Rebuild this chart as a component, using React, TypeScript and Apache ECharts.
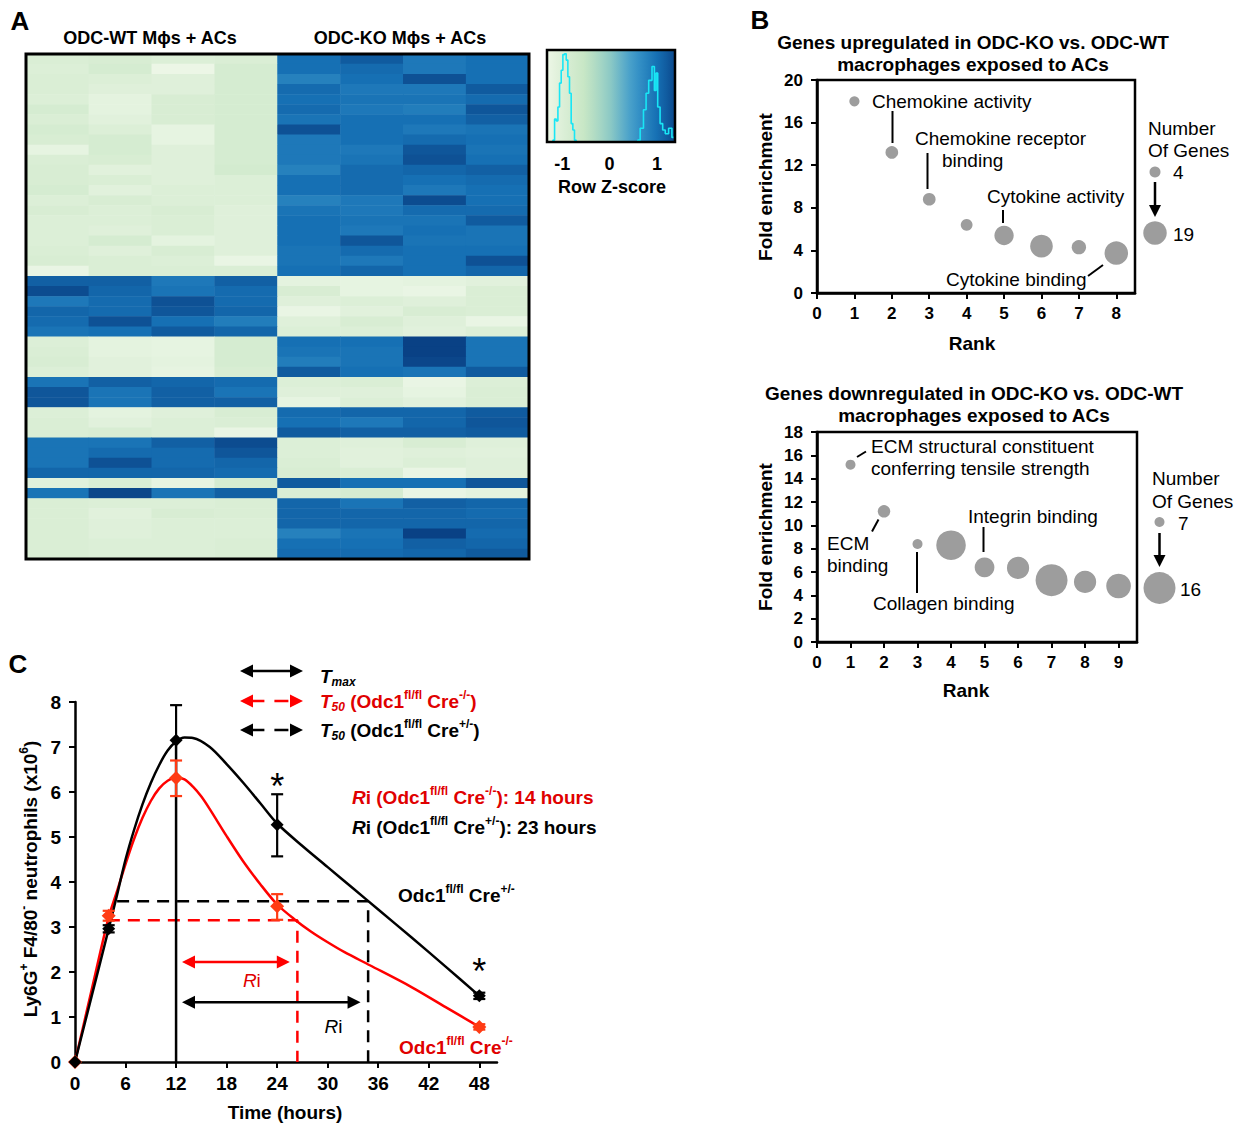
import React, { useEffect, useRef } from 'react';
import * as echarts from 'echarts';

const FONT = '"Liberation Sans", Arial, Helvetica, sans-serif';
const GRAY = '#9d9d9d';
const RED = '#ff0000';
const RED_MARK = '#ff3b14';

// ---------------- Panel A : heatmap ----------------
const heatColumns = ['WT-1', 'WT-2', 'WT-3', 'WT-4', 'KO-1', 'KO-2', 'KO-3', 'KO-4'];
const heatRows: number[][] = [
  [-0.95, -0.9, -1.0, -0.95, 1.0, 1.2, 0.9, 1.0],
  [-1.0, -0.85, -1.3, -0.85, 1.0, 1.05, 0.9, 1.0],
  [-0.95, -1.0, -1.05, -0.85, 0.8, 1.0, 1.3, 1.0],
  [-0.95, -1.05, -1.05, -0.85, 1.05, 0.9, 0.9, 1.2],
  [-1.0, -1.15, -0.9, -0.85, 1.0, 0.95, 0.95, 1.05],
  [-0.85, -1.15, -0.9, -0.85, 1.05, 0.9, 0.85, 1.25],
  [-0.95, -1.1, -0.9, -0.85, 0.95, 1.0, 1.0, 1.15],
  [-0.85, -1.0, -1.2, -0.85, 1.3, 1.0, 0.9, 0.95],
  [-0.9, -0.85, -1.2, -0.85, 0.9, 1.0, 1.05, 1.0],
  [-1.2, -0.85, -1.05, -0.85, 0.9, 0.9, 1.25, 0.95],
  [-0.95, -0.9, -1.05, -0.85, 0.9, 0.95, 1.3, 1.0],
  [-0.9, -1.1, -1.05, -0.8, 0.8, 1.05, 1.1, 1.15],
  [-0.9, -0.95, -1.05, -1.0, 1.0, 1.05, 1.0, 1.05],
  [-0.85, -1.1, -1.0, -1.0, 1.0, 1.05, 0.9, 1.0],
  [-1.0, -0.9, -1.0, -1.0, 0.8, 0.9, 1.35, 1.0],
  [-0.9, -1.0, -0.9, -1.05, 0.95, 0.9, 1.05, 1.05],
  [-1.0, -1.0, -0.95, -1.05, 1.0, 0.95, 0.95, 1.2],
  [-1.0, -1.05, -0.95, -1.05, 1.0, 0.9, 1.0, 0.95],
  [-1.0, -0.85, -1.15, -1.05, 1.0, 1.25, 0.95, 0.95],
  [-0.95, -1.05, -0.9, -1.05, 0.95, 1.05, 1.0, 1.0],
  [-0.9, -0.95, -1.0, -1.25, 0.95, 0.9, 1.0, 1.3],
  [-1.25, -0.95, -0.95, -0.95, 1.0, 1.1, 1.0, 1.1],
  [1.15, 1.15, 0.9, 1.15, -1.15, -1.2, -1.15, -1.1],
  [1.35, 1.1, 0.95, 1.05, -0.9, -1.2, -1.25, -0.95],
  [0.9, 1.05, 1.3, 1.05, -1.05, -1.0, -1.05, -0.95],
  [1.1, 1.05, 1.25, 1.1, -1.25, -1.1, -0.9, -0.95],
  [1.05, 1.3, 1.0, 0.85, -1.05, -0.9, -1.05, -1.25],
  [0.95, 1.0, 1.2, 1.1, -1.0, -1.0, -1.1, -1.0],
  [-1.0, -1.15, -1.2, -0.85, 1.0, 1.0, 1.45, 0.95],
  [-0.95, -1.15, -1.2, -0.85, 0.95, 0.95, 1.45, 0.95],
  [-0.9, -1.1, -1.15, -0.85, 0.85, 0.95, 1.4, 0.95],
  [-1.0, -1.1, -1.2, -0.9, 1.2, 1.0, 0.95, 1.2],
  [0.95, 1.15, 1.1, 1.05, -1.0, -0.95, -1.25, -1.0],
  [1.25, 0.95, 1.15, 0.95, -1.05, -1.05, -1.2, -0.95],
  [1.25, 0.95, 1.15, 1.15, -1.2, -1.0, -1.1, -0.95],
  [-1.0, -1.15, -1.05, -0.9, 1.05, 1.1, 1.1, 1.2],
  [-0.95, -1.1, -1.0, -0.95, 1.0, 0.9, 1.1, 1.25],
  [-0.95, -0.9, -1.0, -1.25, 1.2, 1.15, 1.15, 1.2],
  [0.95, 0.95, 1.15, 1.35, -1.0, -1.05, -0.9, -1.05],
  [0.95, 1.05, 1.05, 1.25, -1.0, -1.1, -1.05, -1.1],
  [0.95, 1.3, 1.05, 1.1, -0.95, -1.1, -1.0, -1.05],
  [1.1, 1.1, 1.1, 1.05, -0.9, -0.95, -1.25, -1.05],
  [-1.1, -0.95, -1.2, -0.85, 1.2, 1.0, 1.0, 1.25],
  [0.95, 1.4, 0.95, 1.15, -0.95, -0.85, -1.25, -1.15],
  [-0.95, -1.0, -1.0, -0.95, 1.1, 0.95, 1.15, 1.1],
  [-0.95, -1.1, -0.9, -0.95, 1.1, 1.1, 1.1, 1.05],
  [-0.95, -1.05, -1.0, -1.0, 1.1, 1.1, 1.1, 1.1],
  [-0.95, -1.05, -1.0, -1.0, 0.8, 0.95, 1.45, 1.05],
  [-0.95, -1.0, -1.0, -0.95, 1.0, 1.0, 1.15, 1.1],
  [-0.95, -1.0, -1.0, -0.95, 1.05, 1.05, 1.1, 1.2],
];
const heatColors = ['#f6fbf0', '#dcefd7', '#c6e6c4', '#8fcbc5', '#3d9acb', '#1670b4', '#083c80'];
const zRange = [-1.5, 1.5];
const keyRange = [-1.32, 1.38];
const keyTicks = [-1, 0, 1];
const histLeftZ = [-1.21, -1.18, -1.14, -1.11, -1.07, -1.04, -1.0, -0.97, -0.93, -0.9, -0.86, -0.83, -0.79, -0.76, -0.72, -0.69];
const histLeftN = [0, 2, 25, 23, 38, 64, 78, 95, 96, 89, 71, 53, 20, 13, 2, 0];
const histRightZ = [0.58, 0.61, 0.68, 0.75, 0.79, 0.86, 0.93, 0.96, 1.0, 1.03, 1.1, 1.14, 1.21, 1.28, 1.35];
const histRightN = [0, 2, 15, 35, 53, 67, 82, 56, 75, 38, 20, 13, 9, 15, 5];

// ---------------- Panel B : enrichment bubbles ----------------
const upRank = [1, 2, 3, 4, 5, 6, 7, 8];
const upFold = [18.0, 13.2, 8.8, 6.4, 5.4, 4.4, 4.3, 3.75];
const upGenes = [3, 6, 6, 5, 14, 18, 8, 19];
const upLegendGenes = [4, 19];
const upXTicks = [0, 1, 2, 3, 4, 5, 6, 7, 8];

const downRank = [1, 2, 3, 4, 5, 6, 7, 8, 9];
const downFold = [15.2, 11.2, 8.4, 8.3, 6.4, 6.35, 5.3, 5.15, 4.8];
const downGenes = [7, 8, 7, 15, 11, 12, 16, 12, 13];
const downLegendGenes = [7, 16];
const downXTicks = [0, 1, 2, 3, 4, 5, 6, 7, 8, 9];

// ---------------- Panel C : neutrophil time course ----------------
const timeHours = [0, 4, 12, 24, 48];
const timeTicks = [0, 6, 12, 18, 24, 30, 36, 42, 48];
const hetMean = [0, 2.96, 7.15, 5.27, 1.47];
const hetErrLow = [0, 0.08, 0, 0.7, 0.07];
const hetErrHigh = [0, 0.08, 0.78, 0.68, 0.07];
const nullMean = [0, 3.25, 6.31, 3.46, 0.78];
const nullErrLow = [0, 0.11, 0.4, 0.3, 0.06];
const nullErrHigh = [0, 0.11, 0.39, 0.27, 0.06];

const hetFitHours = [0, 2, 4, 5, 6, 7, 8, 9, 10, 11, 12, 13, 14, 16, 18, 20, 22, 24, 27, 30, 33, 36, 40, 44, 48];
const hetFitValues = [0, 1.48, 2.96, 3.72, 4.5, 5.15, 5.72, 6.2, 6.6, 6.92, 7.12, 7.21, 7.2, 7.0, 6.62, 6.2, 5.75, 5.3, 4.8, 4.33, 3.86, 3.39, 2.76, 2.12, 1.47];
const nullFitHours = [0, 2, 4, 5, 6, 7, 8, 9, 10, 11, 12, 13, 14, 15, 16, 18, 20, 22, 24, 26, 28, 30, 32, 35, 40, 44, 48];
const nullFitValues = [0, 1.62, 3.22, 3.8, 4.4, 4.95, 5.42, 5.8, 6.08, 6.25, 6.32, 6.28, 6.12, 5.9, 5.62, 5.02, 4.45, 3.95, 3.5, 3.18, 2.9, 2.66, 2.44, 2.15, 1.66, 1.22, 0.78];

const tMax = 12;
const hetT50 = 34.8;
const hetHalf = 3.57;
const hetHalfStart = 5.0;
const nullT50 = 26.4;
const nullHalf = 3.15;
const nullHalfStart = 3.9;
const riNull = [12.7, 25.5, 2.22];
const riHet = [12.7, 33.9, 1.33];

// ---------------- layout ----------------
const HEAT = { left: 26, top: 54, width: 503, height: 505 };
const KEY = { left: 547, top: 50, width: 128, height: 92 };
const UP = { left: 817, top: 80, width: 318, height: 213 };
const DOWN = { left: 817, top: 432, width: 320, height: 210 };
const CG = { left: 75, top: 702, width: 422, height: 360 };
const C_XMAX = 50.1;
const C_YMAX = 8;
const cx = (h: number) => CG.left + (h / C_XMAX) * CG.width;
const cy = (v: number) => CG.top + CG.height - (v / C_YMAX) * CG.height;

const upSize = (n: number) => 11 + ((n - 4) * 12.5) / 15;
const downSize = (n: number) => 10 + ((n - 7) * 22) / 9;

function txt(x: number, y: number, text: string, o: any = {}) {
  return {
    type: 'text',
    x,
    y,
    rotation: o.rotation || 0,
    silent: true,
    z: 100,
    style: {
      text,
      fill: o.color || '#000',
      fontSize: o.size || 19,
      fontWeight: o.weight || 'normal',
      fontStyle: o.italic ? 'italic' : 'normal',
      fontFamily: FONT,
      align: o.align || 'left',
      verticalAlign: 'middle',
      rich: o.rich,
    },
  };
}

function richSet(color: string, size = 19) {
  return {
    b: { fill: color, fontSize: size, fontWeight: 'bold', fontFamily: FONT, lineHeight: 24 },
    bi: { fill: color, fontSize: size, fontWeight: 'bold', fontStyle: 'italic', fontFamily: FONT, lineHeight: 24 },
    sup: { fill: color, fontSize: 12, fontWeight: 'bold', fontFamily: FONT, lineHeight: 13, verticalAlign: 'top' },
    sub: { fill: color, fontSize: 12, fontWeight: 'bold', fontStyle: 'italic', fontFamily: FONT, lineHeight: 13, verticalAlign: 'bottom' },
  };
}

function seg(x1: number, y1: number, x2: number, y2: number, color = '#000', width = 2, dash?: number[]) {
  return {
    type: 'line',
    silent: true,
    z: 100,
    shape: { x1, y1, x2, y2 },
    style: { stroke: color, lineWidth: width, lineDash: dash },
  };
}

function arrow(x1: number, y1: number, x2: number, y2: number, color: string, both: boolean, dash?: number[], head = 13, hw = 6.5, width = 2.5) {
  const dx = x2 - x1;
  const dy = y2 - y1;
  const L = Math.hypot(dx, dy);
  const ux = dx / L;
  const uy = dy / L;
  const px = -uy;
  const py = ux;
  const els: any[] = [];
  const sx = both ? x1 + ux * head * 0.8 : x1;
  const sy = both ? y1 + uy * head * 0.8 : y1;
  const ex = x2 - ux * head * 0.8;
  const ey = y2 - uy * head * 0.8;
  els.push(seg(sx, sy, ex, ey, color, width, dash));
  const headAt = (tx: number, ty: number, dirx: number, diry: number) => ({
    type: 'polygon',
    silent: true,
    z: 100,
    shape: {
      points: [
        [tx, ty],
        [tx - dirx * head + px * hw, ty - diry * head + py * hw],
        [tx - dirx * head - px * hw, ty - diry * head - py * hw],
      ],
    },
    style: { fill: color },
  });
  els.push(headAt(x2, y2, ux, uy));
  if (both) els.push(headAt(x1, y1, -ux, -uy));
  return els;
}

function errorBars(mean: number[], lo: number[], hi: number[], color: string) {
  return {
    type: 'custom',
    xAxisIndex: 4,
    yAxisIndex: 4,
    silent: true,
    z: 6,
    data: timeHours.map((h, i) => [h, mean[i], lo[i], hi[i]]),
    renderItem: (params: any, api: any) => {
      const x = api.value(0);
      const m = api.value(1);
      const l = api.value(2);
      const u = api.value(3);
      const cap = 6;
      const st = { stroke: color, lineWidth: 2.2 };
      const mid = api.coord([x, m]);
      const children: any[] = [];
      if (u > 0) {
        const t = api.coord([x, m + u]);
        children.push({ type: 'line', shape: { x1: mid[0], y1: mid[1], x2: t[0], y2: t[1] }, style: st });
        children.push({ type: 'line', shape: { x1: t[0] - cap, y1: t[1], x2: t[0] + cap, y2: t[1] }, style: st });
      }
      if (l > 0) {
        const b = api.coord([x, m - l]);
        children.push({ type: 'line', shape: { x1: mid[0], y1: mid[1], x2: b[0], y2: b[1] }, style: st });
        children.push({ type: 'line', shape: { x1: b[0] - cap, y1: b[1], x2: b[0] + cap, y2: b[1] }, style: st });
      }
      return { type: 'group', children };
    },
  };
}

const axisLineBlack = { show: true, onZero: false, lineStyle: { color: '#000', width: 2.5 } };
const tickOut = (custom?: number[]) => ({ show: true, inside: false, length: 6, lineStyle: { color: '#000', width: 2 }, customValues: custom });
const lab = (size: number, margin: number, custom?: number[]) => ({
  color: '#000',
  fontSize: size,
  fontWeight: 'bold',
  fontFamily: FONT,
  margin,
  customValues: custom,
});

function buildOption() {
  const heatData: number[][] = [];
  heatRows.forEach((row, r) => row.forEach((v, c) => heatData.push([c, r, v])));

  const keyStops = Array.from({ length: 15 }, (_, i) => {
    const t = i / 14;
    const v = keyRange[0] + t * (keyRange[1] - keyRange[0]);
    return { offset: t, color: echarts.color.lerp((v - zRange[0]) / (zRange[1] - zRange[0]), heatColors) };
  });

  const rc = richSet('#e00000');
  const rk = richSet('#000');

  const graphics: any[] = [
    // panel letters
    txt(20, 21, 'A', { size: 26, weight: 'bold', align: 'center' }),
    txt(760, 20, 'B', { size: 26, weight: 'bold', align: 'center' }),
    txt(18, 664, 'C', { size: 26, weight: 'bold', align: 'center' }),
    // heatmap titles
    txt(150, 38, 'ODC-WT Mϕs + ACs', { size: 18, weight: 'bold', align: 'center' }),
    txt(400, 38, 'ODC-KO Mϕs + ACs', { size: 18, weight: 'bold', align: 'center' }),
    {
      type: 'rect', silent: true, z: 100,
      shape: { x: HEAT.left, y: HEAT.top, width: HEAT.width, height: HEAT.height },
      style: { fill: 'none', stroke: '#000', lineWidth: 3 },
    },
    // colour key
    {
      type: 'rect', silent: true, z: 0,
      shape: { x: KEY.left, y: KEY.top, width: KEY.width, height: KEY.height },
      style: { fill: { type: 'linear', x: 0, y: 0, x2: 1, y2: 0, colorStops: keyStops } },
    },
    {
      type: 'rect', silent: true, z: 100,
      shape: { x: KEY.left, y: KEY.top, width: KEY.width, height: KEY.height },
      style: { fill: 'none', stroke: '#000', lineWidth: 2.5 },
    },
    txt(612, 187, 'Row Z-score', { size: 18, weight: 'bold', align: 'center' }),

    // panel B top
    txt(973, 42, 'Genes upregulated in ODC-KO vs. ODC-WT', { size: 19, weight: 'bold', align: 'center' }),
    txt(973, 64, 'macrophages exposed to ACs', { size: 19, weight: 'bold', align: 'center' }),
    txt(765, 187, 'Fold enrichment', { size: 19, weight: 'bold', align: 'center', rotation: Math.PI / 2 }),
    txt(972, 343, 'Rank', { size: 19, weight: 'bold', align: 'center' }),
    txt(872, 101, 'Chemokine activity'),
    seg(892.5, 111, 892.5, 143),
    txt(915, 138, 'Chemokine receptor'),
    txt(942, 160, 'binding'),
    seg(927.5, 153, 927.5, 189),
    txt(987, 196, 'Cytokine activity'),
    seg(1003, 210, 1003, 223),
    txt(946, 279, 'Cytokine binding'),
    seg(1088, 276, 1103, 265),
    txt(1148, 128, 'Number'),
    txt(1148, 150, 'Of Genes'),
    { type: 'circle', silent: true, z: 100, shape: { cx: 1155, cy: 172, r: upSize(upLegendGenes[0]) / 2 }, style: { fill: GRAY } },
    txt(1173, 172, String(upLegendGenes[0])),
    ...arrow(1155, 182, 1155, 217, '#000', false, undefined, 12, 6, 2.5),
    { type: 'circle', silent: true, z: 100, shape: { cx: 1155, cy: 233, r: upSize(upLegendGenes[1]) / 2 }, style: { fill: GRAY } },
    txt(1173, 234, String(upLegendGenes[1])),

    // panel B bottom
    txt(974, 393, 'Genes downregulated in ODC-KO vs. ODC-WT', { size: 19, weight: 'bold', align: 'center' }),
    txt(974, 415, 'macrophages exposed to ACs', { size: 19, weight: 'bold', align: 'center' }),
    txt(765, 537, 'Fold enrichment', { size: 19, weight: 'bold', align: 'center', rotation: Math.PI / 2 }),
    txt(966, 690, 'Rank', { size: 19, weight: 'bold', align: 'center' }),
    txt(871, 446, 'ECM structural constituent'),
    txt(871, 468, 'conferring tensile strength'),
    seg(857, 457, 866, 451.5),
    txt(827, 543, 'ECM'),
    txt(827, 565, 'binding'),
    seg(872, 531.5, 878.5, 519.5),
    txt(968, 516, 'Integrin binding'),
    seg(983.5, 527, 983.5, 552),
    txt(873, 603, 'Collagen binding'),
    seg(917, 552, 917, 593),
    txt(1152, 478, 'Number'),
    txt(1152, 501, 'Of Genes'),
    { type: 'circle', silent: true, z: 100, shape: { cx: 1159.5, cy: 522, r: downSize(downLegendGenes[0]) / 2 }, style: { fill: GRAY } },
    txt(1178, 523, String(downLegendGenes[0])),
    ...arrow(1159.5, 533, 1159.5, 567, '#000', false, undefined, 12, 6, 2.5),
    { type: 'circle', silent: true, z: 100, shape: { cx: 1159.5, cy: 588, r: downSize(downLegendGenes[1]) / 2 }, style: { fill: GRAY } },
    txt(1180, 589, String(downLegendGenes[1])),

    // panel C
    txt(30, 879, '{b|Ly6G}{sup|+}{b| F4/80}{sup|-}{b| neutrophils (x10}{sup|6}{b|)}', { align: 'center', rotation: Math.PI / 2, rich: rk }),
    txt(285, 1112, 'Time (hours)', { size: 19, weight: 'bold', align: 'center' }),
    ...arrow(240, 671, 303, 671, '#000', true),
    ...arrow(240, 701, 303, 701, RED, true, [14, 10]),
    ...arrow(240, 730, 303, 730, '#000', true, [14, 10]),
    txt(320, 676, '{bi|T}{sub|max}', { rich: rk }),
    txt(320, 701, '{bi|T}{sub|50}{b| (Odc1}{sup|fl/fl}{b| Cre}{sup|-/-}{b|)}', { rich: rc }),
    txt(320, 730, '{bi|T}{sub|50}{b| (Odc1}{sup|fl/fl}{b| Cre}{sup|+/-}{b|)}', { rich: rk }),
    txt(352, 797, '{bi|R}{b|i (Odc1}{sup|fl/fl}{b| Cre}{sup|-/-}{b|): 14 hours}', { rich: rc }),
    txt(352, 827, '{bi|R}{b|i (Odc1}{sup|fl/fl}{b| Cre}{sup|+/-}{b|): 23 hours}', { rich: rk }),
    txt(398, 895, '{b|Odc1}{sup|fl/fl}{b| Cre}{sup|+/-}', { rich: rk }),
    txt(399, 1047, '{b|Odc1}{sup|fl/fl}{b| Cre}{sup|-/-}', { rich: rc }),
    txt(cx(24), cy(hetMean[3] + hetErrHigh[3]) - 8, '*', { size: 36, align: 'center' }),
    txt(cx(48), cy(hetMean[4]) - 24, '*', { size: 36, align: 'center' }),
    ...arrow(cx(riNull[0]), cy(riNull[2]), cx(riNull[1]), cy(riNull[2]), RED, true),
    ...arrow(cx(riHet[0]), cy(riHet[2]), cx(riHet[1]), cy(riHet[2]), '#000', true),
    txt(cx(21), cy(1.82), '{bi|R}{b|i}', { align: 'center', rich: { bi: { ...rc.bi, fontWeight: 'normal' }, b: { ...rc.b, fontWeight: 'normal' } } }),
    txt(cx(30.7), cy(0.78), '{bi|R}{b|i}', { align: 'center', rich: { bi: { ...rk.bi, fontWeight: 'normal' }, b: { ...rk.b, fontWeight: 'normal' } } }),
  ];

  return {
    animation: false,
    backgroundColor: '#ffffff',
    textStyle: { fontFamily: FONT },
    grid: [
      { ...HEAT, containLabel: false },
      { ...KEY, containLabel: false },
      { ...UP, show: true, borderColor: '#000', borderWidth: 2.5, backgroundColor: 'transparent' },
      { ...DOWN, show: true, borderColor: '#000', borderWidth: 2.5, backgroundColor: 'transparent' },
      { ...CG },
    ],
    xAxis: [
      { gridIndex: 0, type: 'category', data: heatColumns, show: false },
      {
        gridIndex: 1, type: 'value', min: keyRange[0], max: keyRange[1],
        axisLine: { show: false }, axisTick: { show: false }, splitLine: { show: false },
        axisLabel: lab(18, 13, keyTicks),
      },
      {
        gridIndex: 2, type: 'value', min: 0, max: 8.5,
        axisLine: axisLineBlack, axisTick: tickOut(upXTicks), splitLine: { show: false },
        axisLabel: lab(17, 12, upXTicks),
      },
      {
        gridIndex: 3, type: 'value', min: 0, max: 9.55,
        axisLine: axisLineBlack, axisTick: tickOut(downXTicks), splitLine: { show: false },
        axisLabel: lab(17, 12, downXTicks),
      },
      {
        gridIndex: 4, type: 'value', min: 0, max: C_XMAX,
        axisLine: axisLineBlack, axisTick: tickOut(timeTicks), splitLine: { show: false },
        axisLabel: lab(19, 12, timeTicks),
      },
    ],
    yAxis: [
      { gridIndex: 0, type: 'category', data: heatRows.map((_, i) => 'g' + (i + 1)), inverse: true, show: false },
      { gridIndex: 1, type: 'value', min: 0, max: 100, show: false },
      {
        gridIndex: 2, type: 'value', min: 0, max: 20, interval: 4,
        axisLine: axisLineBlack, axisTick: tickOut(), splitLine: { show: false },
        axisLabel: lab(17, 14),
      },
      {
        gridIndex: 3, type: 'value', min: 0, max: 18, interval: 2,
        axisLine: axisLineBlack, axisTick: tickOut(), splitLine: { show: false },
        axisLabel: lab(17, 14),
      },
      {
        gridIndex: 4, type: 'value', min: 0, max: C_YMAX, interval: 1,
        axisLine: axisLineBlack, axisTick: tickOut(), splitLine: { show: false },
        axisLabel: lab(19, 14),
      },
    ],
    visualMap: [
      {
        type: 'continuous', show: false, seriesIndex: 0, dimension: 2,
        min: zRange[0], max: zRange[1], inRange: { color: heatColors },
      },
    ],
    series: [
      {
        type: 'heatmap', xAxisIndex: 0, yAxisIndex: 0, data: heatData, silent: true,
        itemStyle: { borderWidth: 0 },
        emphasis: { disabled: true },
      },
      {
        type: 'line', xAxisIndex: 1, yAxisIndex: 1, step: 'middle', symbol: 'none', silent: true,
        data: histLeftZ.map((z, i) => [z, histLeftN[i]]),
        lineStyle: { color: '#19e6f5', width: 1.6 },
      },
      {
        type: 'line', xAxisIndex: 1, yAxisIndex: 1, step: 'middle', symbol: 'none', silent: true,
        data: histRightZ.map((z, i) => [z, histRightN[i]]),
        lineStyle: { color: '#19e6f5', width: 1.6 },
      },
      {
        type: 'scatter', xAxisIndex: 2, yAxisIndex: 2, silent: true,
        data: upRank.map((r, i) => [r, upFold[i], upGenes[i]]),
        symbolSize: (v: number[]) => upSize(v[2]),
        itemStyle: { color: GRAY, opacity: 1 },
      },
      {
        type: 'scatter', xAxisIndex: 3, yAxisIndex: 3, silent: true,
        data: downRank.map((r, i) => [r, downFold[i], downGenes[i]]),
        symbolSize: (v: number[]) => downSize(v[2]),
        itemStyle: { color: GRAY, opacity: 1 },
      },
      // panel C
      {
        type: 'line', xAxisIndex: 4, yAxisIndex: 4, symbol: 'none', silent: true, z: 3,
        data: [[hetHalfStart, hetHalf], [hetT50, hetHalf], [hetT50, 0]],
        lineStyle: { color: '#000', width: 2.5, type: [12, 8] },
      },
      {
        type: 'line', xAxisIndex: 4, yAxisIndex: 4, symbol: 'none', silent: true, z: 3,
        data: [[nullHalfStart, nullHalf], [nullT50, nullHalf], [nullT50, 0]],
        lineStyle: { color: RED, width: 2.5, type: [12, 8] },
      },
      {
        type: 'line', xAxisIndex: 4, yAxisIndex: 4, symbol: 'none', silent: true, z: 3,
        data: [[tMax, 0], [tMax, hetMean[2]]],
        lineStyle: { color: '#000', width: 2.5 },
      },
      {
        type: 'line', xAxisIndex: 4, yAxisIndex: 4, symbol: 'none', silent: true, z: 4, smooth: 0.3,
        data: nullFitHours.map((h, i) => [h, nullFitValues[i]]),
        lineStyle: { color: RED, width: 2.5 },
      },
      {
        type: 'line', xAxisIndex: 4, yAxisIndex: 4, symbol: 'none', silent: true, z: 4, smooth: 0.3,
        data: hetFitHours.map((h, i) => [h, hetFitValues[i]]),
        lineStyle: { color: '#000', width: 2.5 },
      },
      errorBars(nullMean, nullErrLow, nullErrHigh, RED_MARK),
      errorBars(hetMean, hetErrLow, hetErrHigh, '#000'),
      {
        type: 'scatter', xAxisIndex: 4, yAxisIndex: 4, silent: true, z: 8,
        symbol: 'diamond', symbolSize: 14,
        data: timeHours.map((h, i) => [h, nullMean[i]]),
        itemStyle: { color: RED_MARK, opacity: 1 },
      },
      {
        type: 'scatter', xAxisIndex: 4, yAxisIndex: 4, silent: true, z: 9,
        symbol: 'diamond', symbolSize: 13,
        data: timeHours.map((h, i) => [h, hetMean[i]]),
        itemStyle: { color: '#000', opacity: 1 },
      },
    ],
    graphic: { elements: graphics },
  };
}

export default function App() {
  const ref = useRef<HTMLDivElement>(null);
  useEffect(() => {
    const chart = echarts.init(ref.current as HTMLDivElement, null, { renderer: 'svg' });
    chart.setOption(buildOption() as any);
    return () => chart.dispose();
  }, []);
  return (
    <div
      ref={ref}
      style={{ position: 'absolute', left: 0, top: 0, width: 1246, height: 1123, background: '#fff' }}
    />
  );
}
